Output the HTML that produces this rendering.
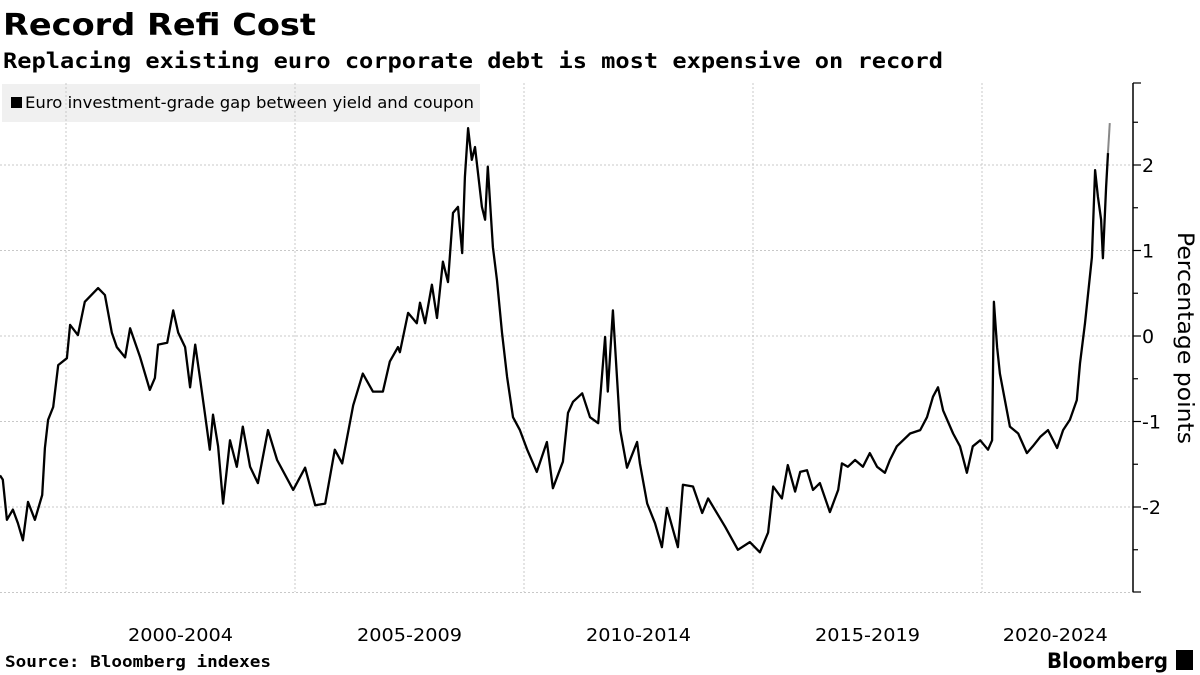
<!DOCTYPE html>
<html><head><meta charset="utf-8"><style>
body{margin:0;width:1200px;height:675px;background:#fff;overflow:hidden;font-family:"DejaVu Sans",sans-serif;position:relative}
</style></head><body>
<svg id="chart" width="1200" height="675" style="position:absolute;left:0;top:0">
<text x="3" y="35" font-size="30" font-weight="bold" font-family="DejaVu Sans, sans-serif" textLength="313" lengthAdjust="spacingAndGlyphs">Record Refi Cost</text>
<text x="3" y="68" font-size="21" font-weight="bold" font-family="DejaVu Sans Mono, monospace" textLength="940" lengthAdjust="spacingAndGlyphs">Replacing existing euro corporate debt is most expensive on record</text>
<rect x="2" y="84" width="478" height="38" fill="#f0f0f0"/>
<rect x="11" y="97" width="11" height="11" fill="#000"/>
<text x="25" y="108" font-size="16" font-family="DejaVu Sans, sans-serif" textLength="449" lengthAdjust="spacingAndGlyphs">Euro investment-grade gap between yield and coupon</text>
<text x="5" y="667" font-size="16" font-weight="bold" font-family="DejaVu Sans Mono, monospace" textLength="266" lengthAdjust="spacingAndGlyphs">Source: Bloomberg indexes</text>
<text x="1047" y="668" font-size="21" font-weight="bold" font-family="DejaVu Sans, sans-serif" textLength="121" lengthAdjust="spacingAndGlyphs">Bloomberg</text>
<rect x="1176" y="650" width="17" height="20" fill="#000"/>
</svg>
<script>
const years=[1998.56,1998.62,1998.71,1998.84,1998.95,1999.06,1999.17,1999.32,1999.48,1999.54,1999.61,1999.72,1999.83,2000.02,2000.09,2000.26,2000.41,2000.70,2000.85,2001.00,2001.11,2001.29,2001.40,2001.62,2001.83,2001.94,2002.01,2002.21,2002.34,2002.45,2002.60,2002.71,2002.82,2002.93,2003.03,2003.14,2003.21,2003.32,2003.43,2003.58,2003.73,2003.86,2004.02,2004.19,2004.41,2004.61,2004.96,2005.22,2005.44,2005.66,2005.87,2006.03,2006.27,2006.48,2006.70,2006.92,2007.07,2007.25,2007.29,2007.47,2007.66,2007.73,2007.84,2007.99,2008.10,2008.23,2008.34,2008.45,2008.56,2008.65,2008.71,2008.78,2008.86,2008.93,2009.08,2009.15,2009.21,2009.32,2009.41,2009.52,2009.63,2009.76,2009.91,2010.07,2010.28,2010.50,2010.63,2010.85,2010.96,2011.07,2011.27,2011.44,2011.62,2011.77,2011.83,2011.94,2012.10,2012.25,2012.47,2012.53,2012.69,2012.86,2013.01,2013.12,2013.36,2013.47,2013.69,2013.89,2014.02,2014.39,2014.67,2014.93,2015.15,2015.33,2015.44,2015.63,2015.76,2015.92,2016.03,2016.18,2016.31,2016.46,2016.68,2016.86,2016.94,2017.07,2017.23,2017.40,2017.55,2017.71,2017.88,2017.99,2018.14,2018.43,2018.65,2018.80,2018.93,2019.04,2019.15,2019.37,2019.52,2019.67,2019.80,2019.96,2020.13,2020.22,2020.26,2020.33,2020.39,2020.50,2020.61,2020.79,2020.98,2021.11,2021.27,2021.44,2021.64,2021.77,2021.92,2022.07,2022.14,2022.25,2022.40,2022.47,2022.53,2022.60,2022.64,2022.71,2022.75,2022.79];
const values=[-1.63,-1.68,-2.15,-2.03,-2.19,-2.39,-1.94,-2.15,-1.86,-1.31,-0.98,-0.83,-0.34,-0.26,0.13,0.01,0.40,0.56,0.48,0.04,-0.13,-0.25,0.09,-0.25,-0.63,-0.49,-0.10,-0.08,0.30,0.04,-0.13,-0.60,-0.10,-0.51,-0.90,-1.33,-0.92,-1.29,-1.96,-1.22,-1.53,-1.06,-1.53,-1.72,-1.10,-1.45,-1.80,-1.54,-1.98,-1.96,-1.33,-1.49,-0.81,-0.44,-0.65,-0.65,-0.30,-0.13,-0.19,0.27,0.15,0.39,0.15,0.60,0.21,0.87,0.63,1.44,1.51,0.97,1.86,2.43,2.06,2.21,1.51,1.36,1.98,1.04,0.65,0.04,-0.48,-0.95,-1.10,-1.33,-1.59,-1.24,-1.78,-1.47,-0.90,-0.77,-0.67,-0.95,-1.02,-0.01,-0.65,0.30,-1.10,-1.54,-1.24,-1.49,-1.96,-2.19,-2.47,-2.01,-2.47,-1.74,-1.76,-2.07,-1.90,-2.23,-2.50,-2.41,-2.53,-2.30,-1.76,-1.90,-1.51,-1.82,-1.59,-1.57,-1.80,-1.72,-2.06,-1.80,-1.49,-1.53,-1.45,-1.53,-1.37,-1.53,-1.60,-1.45,-1.29,-1.14,-1.10,-0.95,-0.71,-0.60,-0.87,-1.14,-1.29,-1.60,-1.29,-1.22,-1.33,-1.22,0.40,-0.13,-0.44,-0.75,-1.06,-1.14,-1.37,-1.29,-1.18,-1.10,-1.31,-1.10,-0.98,-0.75,-0.32,0.15,0.92,1.94,1.63,1.36,0.91,1.74,2.14,2.49];
const yTicks=[-2,-1,0,1,2];
const xTickYears=[2000,2005,2010,2015,2020];
const xLabels=["2000-2004","2005-2009","2010-2014","2015-2019","2020-2024"];
const xLabelYears=[2002.5,2007.5,2012.5,2017.5,2021.6];

const svg=document.getElementById('chart');
const NS='http://www.w3.org/2000/svg';
const X=y=>66+(y-2000)*45.8;
const Y=v=>336-v*85.5;
function mk(tag,attrs){const e=document.createElementNS(NS,tag);for(const k in attrs)e.setAttribute(k,attrs[k]);svg.appendChild(e);return e;}
for(let v=-3;v<=2;v++){const g=mk('line',{x1:0,x2:1133,y1:Y(v),y2:Y(v),stroke:'#c8c8c8','stroke-dasharray':'2,2','stroke-width':1});

}
xTickYears.forEach(yr=>{const g=mk('line',{x1:X(yr),x2:X(yr),y1:83,y2:592,stroke:'#c8c8c8','stroke-dasharray':'2,2','stroke-width':1});

});
const ax=mk('line',{x1:1133,x2:1133,y1:83,y2:592,stroke:'#000','stroke-width':1.5});


for(let v=-3;v<=3;v+=0.5){const yy=Math.max(83,Math.min(592,Y(v)));const t=mk('line',{x1:1133,x2:v%1===0?1141:1138,y1:yy,y2:yy,stroke:'#000','stroke-width':1.2});

}
yTicks.forEach(v=>{const t=mk('text',{x:1142,y:Y(v)+7,'font-size':19,'font-family':'DejaVu Sans, sans-serif'});t.textContent=v;

});
xLabels.forEach((l,i)=>{const t=mk('text',{x:X(xLabelYears[i]),y:641,'font-size':18,'text-anchor':'middle','font-family':'DejaVu Sans, sans-serif',textLength:105,lengthAdjust:'spacingAndGlyphs'});t.textContent=l;

});
const at=mk('text',{x:1178,y:338,'font-size':22,'text-anchor':'middle','font-family':'DejaVu Sans, sans-serif',transform:'rotate(90 1178 338)',textLength:212,lengthAdjust:'spacingAndGlyphs'});at.textContent='Percentage points';


const n=Math.min(years.length,values.length);
const pts=years.slice(0,n-1).map((yr,i)=>X(yr).toFixed(1)+','+Y(values[i]).toFixed(1)).join(' ');
const line=mk('polyline',{points:pts,fill:'none',stroke:'#000','stroke-width':2.3,'stroke-linejoin':'round'});


const last=mk('line',{x1:X(years[n-2]),y1:Y(values[n-2]),x2:X(years[n-1]),y2:Y(values[n-1]),stroke:'#888','stroke-width':2});


</script>
</body></html>
